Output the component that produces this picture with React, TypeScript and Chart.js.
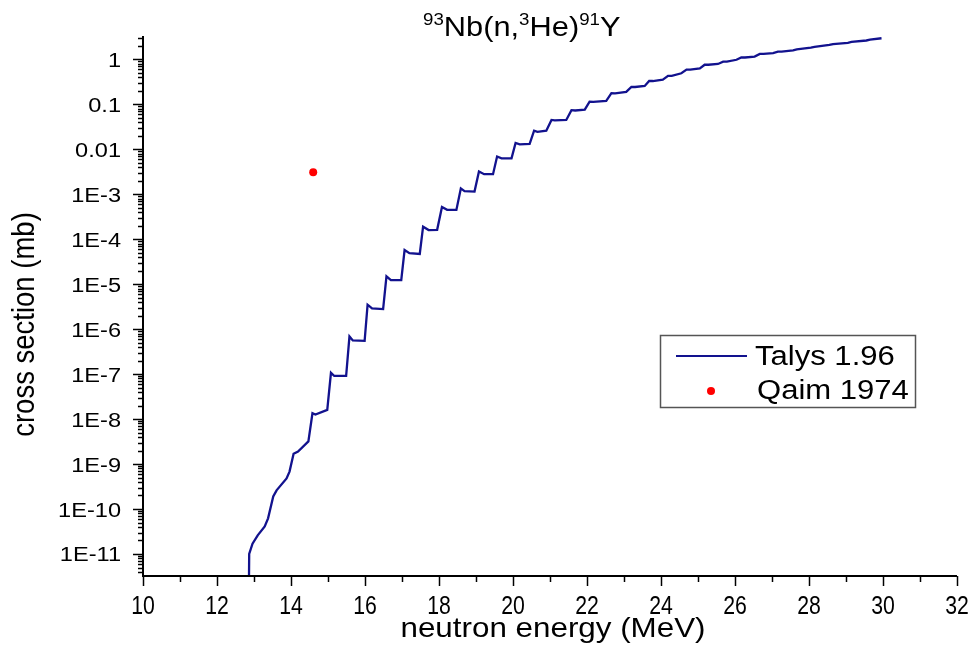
import React, { useEffect, useRef } from "react";
import { Chart, registerables } from "chart.js";

Chart.register(...registerables);

// ---- data ----
const energies = [
  12.86, 12.87, 12.96, 13.1, 13.29, 13.38, 13.52, 13.61, 13.88, 13.96, 14.07, 14.19, 14.47, 14.58, 14.66,
  14.98, 15.08, 15.17, 15.49, 15.58, 15.67, 15.99, 16.07, 16.19, 16.49, 16.58, 16.7, 16.98, 17.07, 17.2,
  17.48, 17.57, 17.72, 17.95, 18.08, 18.22, 18.47, 18.59, 18.69, 18.96, 19.08, 19.22, 19.46, 19.57, 19.69,
  19.96, 20.07, 20.18, 20.45, 20.57, 20.66, 20.9, 21.04, 21.13, 21.44, 21.58, 21.68, 21.94, 22.07, 22.17,
  22.52, 22.66, 22.76, 23.06, 23.2, 23.3, 23.56, 23.68, 23.78, 24.05, 24.19, 24.29, 24.55, 24.69, 24.79,
  25.05, 25.18, 25.28, 25.54, 25.68, 25.78, 26.04, 26.17, 26.27, 26.53, 26.67, 26.77, 27.03, 27.16, 27.26,
  27.57, 27.67, 28.05, 28.15, 28.55, 28.65, 29.05, 29.15, 29.55, 29.65, 29.96,
];
const talys = [
  1e-12, 1.0e-11, 1.7e-11, 2.6e-11, 4.1e-11, 6.2e-11, 1.9e-10, 2.6e-10, 4.8e-10, 6.8e-10, 1.7e-9, 1.9e-9,
  3.2e-9, 1.35e-8, 1.26e-8, 1.6e-8, 1.07e-7, 9.1e-8, 9.1e-8, 6.9e-7, 5.6e-7, 5.5e-7, 3.5e-6, 2.9e-6,
  2.8e-6, 1.5e-5, 1.23e-5, 1.23e-5, 5.75e-5, 4.9e-5, 4.7e-5, 1.9e-4, 1.6e-4, 1.62e-4, 5.2e-4, 4.5e-4,
  4.5e-4, 1.35e-3, 1.17e-3, 1.15e-3, 3.2e-3, 2.8e-3, 2.8e-3, 6.9e-3, 6.3e-3, 6.3e-3, 1.38e-2, 1.29e-2,
  1.32e-2, 2.6e-2, 2.45e-2, 2.6e-2, 4.5e-2, 4.4e-2, 4.5e-2, 7.4e-2, 7.3e-2, 7.6e-2, 0.115, 0.114, 0.12,
  0.178, 0.176, 0.19, 0.245, 0.243, 0.257, 0.33, 0.33, 0.355, 0.43, 0.43, 0.49, 0.59, 0.59, 0.63, 0.76,
  0.76, 0.79, 0.89, 0.89, 0.98, 1.1, 1.1, 1.15, 1.32, 1.32, 1.38, 1.48, 1.48, 1.58, 1.66, 1.82, 1.9, 2.09,
  2.19, 2.34, 2.45, 2.63, 2.75, 2.95,
];
const qaimEnergy = [14.6];
const qaimSigma = [3.1e-3];

const xTickValues = [10, 11, 12, 13, 14, 15, 16, 17, 18, 19, 20, 21, 22, 23, 24, 25, 26, 27, 28, 29, 30, 31, 32];
const xLabelValues = [10, 12, 14, 16, 18, 20, 22, 24, 26, 28, 30, 32];
const xLabels = ["10", "12", "14", "16", "18", "20", "22", "24", "26", "28", "30", "32"];
const yLabelValues = [1, 0.1, 0.01, 1e-3, 1e-4, 1e-5, 1e-6, 1e-7, 1e-8, 1e-9, 1e-10, 1e-11];
const yLabels = ["1", "0.1", "0.01", "1E-3", "1E-4", "1E-5", "1E-6", "1E-7", "1E-8", "1E-9", "1E-10", "1E-11"];
const yMinorSignificands = [2, 3, 4, 5, 6, 7, 8, 9];
const yDecades = [1e-12, 1e-11, 1e-10, 1e-9, 1e-8, 1e-7, 1e-6, 1e-5, 1e-4, 1e-3, 1e-2, 1e-1, 1];

const titleParts = [
  { t: "93", sup: true },
  { t: "Nb(n,", sup: false },
  { t: "3", sup: true },
  { t: "He)", sup: false },
  { t: "91", sup: true },
  { t: "Y", sup: false },
];
const xTitle = "neutron energy (MeV)";
const yTitle = "cross section (mb)";
const legendLabels = ["Talys 1.96", "Qaim 1974"];

const NAVY = "#12128e";
const FONT = '"Liberation Sans", Arial, sans-serif';

function sText(
  ctx: CanvasRenderingContext2D,
  text: string,
  x: number,
  y: number,
  size: number,
  align: "left" | "center" | "right",
  sx = 1.15
) {
  ctx.save();
  ctx.font = `${size}px ${FONT}`;
  ctx.textBaseline = "alphabetic";
  ctx.textAlign = "left";
  const w = ctx.measureText(text).width * sx;
  let x0 = x;
  if (align === "center") x0 = x - w / 2;
  else if (align === "right") x0 = x - w;
  ctx.translate(x0, y);
  ctx.scale(sx, 1);
  ctx.fillStyle = "#000";
  ctx.fillText(text, 0, 0);
  ctx.restore();
  return w;
}

const decor = {
  id: "decor",
  afterDraw(chart: any) {
    const ctx: CanvasRenderingContext2D = chart.ctx;
    const area = chart.chartArea;
    const xs = chart.scales.x;
    const ys = chart.scales.y;
    ctx.save();
    ctx.strokeStyle = "#000";
    ctx.lineWidth = 2;
    // axes
    ctx.beginPath();
    ctx.moveTo(area.left, area.top);
    ctx.lineTo(area.left, area.bottom);
    ctx.lineTo(area.right, area.bottom);
    ctx.stroke();
    // x ticks
    ctx.lineWidth = 1.5;
    xTickValues.forEach((v) => {
      const px = Math.round(xs.getPixelForValue(v)) + 0.5;
      const len = v % 2 === 0 ? 10 : 6;
      ctx.beginPath();
      ctx.moveTo(px, area.bottom);
      ctx.lineTo(px, area.bottom + len);
      ctx.stroke();
    });
    // y ticks
    yDecades.forEach((d) => {
      const vals = [d, ...yMinorSignificands.map((k) => k * d)];
      vals.forEach((v, i) => {
        if (v < ys.min || v > ys.max) return;
        const py = Math.round(ys.getPixelForValue(v)) + 0.5;
        const len = i === 0 ? 10 : 5;
        ctx.beginPath();
        ctx.moveTo(area.left, py);
        ctx.lineTo(area.left - len, py);
        ctx.stroke();
      });
    });
    // x labels
    xLabelValues.forEach((v, i) => {
      sText(ctx, xLabels[i], xs.getPixelForValue(v), 614, 25, "center", 0.85);
    });
    // y labels
    yLabelValues.forEach((v, i) => {
      sText(ctx, yLabels[i], 121, ys.getPixelForValue(v) + 7.5, 20.5, "right");
    });
    // x title
    sText(ctx, xTitle, 553, 637, 28, "center", 1.12);
    // y title
    ctx.save();
    ctx.translate(34, 324.5);
    ctx.rotate(-Math.PI / 2);
    ctx.scale(1, 1.15);
    ctx.font = `27.5px ${FONT}`;
    ctx.textAlign = "center";
    ctx.textBaseline = "alphabetic";
    ctx.fillStyle = "#000";
    ctx.fillText(yTitle, 0, 0);
    ctx.restore();
    // title
    let tx = 423;
    titleParts.forEach((p) => {
      if (p.sup) tx += sText(ctx, p.t, tx, 25, 17, "left", 1.1);
      else tx += sText(ctx, p.t, tx, 36, 28, "left", 1.1);
    });
    // legend
    ctx.strokeStyle = "#555";
    ctx.lineWidth = 1.5;
    ctx.strokeRect(660.5, 335.5, 255, 72);
    ctx.strokeStyle = NAVY;
    ctx.lineWidth = 2;
    ctx.beginPath();
    ctx.moveTo(676, 356);
    ctx.lineTo(747, 356);
    ctx.stroke();
    ctx.fillStyle = "#ff0000";
    ctx.beginPath();
    ctx.arc(711, 391, 4, 0, Math.PI * 2);
    ctx.fill();
    sText(ctx, legendLabels[0], 755, 365, 27, "left");
    sText(ctx, legendLabels[1], 757, 399, 27, "left");
    ctx.restore();
  },
};

export default function App() {
  const ref = useRef<HTMLCanvasElement | null>(null);
  useEffect(() => {
    if (!ref.current) return;
    const chart = new Chart(ref.current, {
      type: "scatter",
      data: {
        datasets: [
          {
            label: legendLabels[0],
            data: energies.map((x, i) => ({ x, y: talys[i] })),
            showLine: true,
            borderColor: NAVY,
            backgroundColor: NAVY,
            borderWidth: 2.3,
            pointRadius: 0,
            tension: 0,
            order: 2,
          },
          {
            label: legendLabels[1],
            data: qaimEnergy.map((x, i) => ({ x, y: qaimSigma[i] })),
            showLine: false,
            pointRadius: 4,
            backgroundColor: "#ff0000",
            borderColor: "#ff0000",
            borderWidth: 0,
            order: 1,
          },
        ],
      },
      options: {
        responsive: false,
        animation: false,
        devicePixelRatio: 1,
        layout: { padding: { top: 36, right: 15, left: 0, bottom: 0 } },
        plugins: { legend: { display: false }, title: { display: false }, tooltip: { enabled: false } },
        scales: {
          x: {
            type: "linear",
            min: 10,
            max: 32,
            grid: { display: false },
            border: { display: false },
            ticks: { display: false },
            afterFit: (s: any) => {
              s.height = 90;
            },
          },
          y: {
            type: "logarithmic",
            min: 3.24e-12,
            max: 3.31,
            grid: { display: false },
            border: { display: false },
            ticks: { display: false },
            afterFit: (s: any) => {
              s.width = 143;
            },
          },
        },
      },
      plugins: [decor],
    } as any);
    return () => chart.destroy();
  }, []);
  return (
    <div style={{ position: "absolute", left: 0, top: 0, width: 972, height: 666, background: "#fff" }}>
      <canvas ref={ref} width={972} height={666} style={{ width: 972, height: 666 }} />
    </div>
  );
}
